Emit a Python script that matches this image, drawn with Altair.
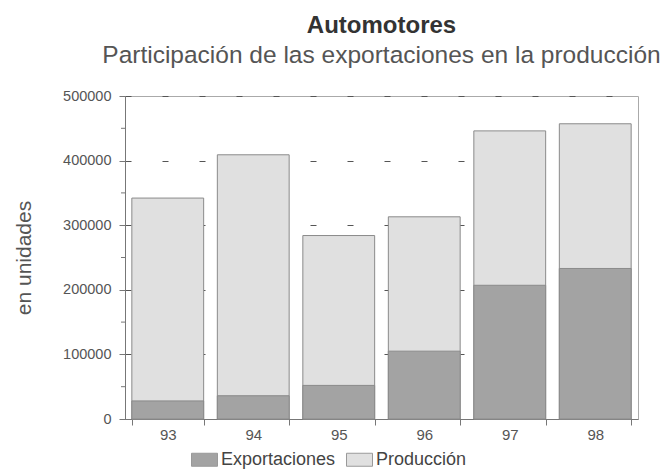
import altair as alt
import pandas as pd

years = ["93", "94", "95", "96", "97", "98"]
produccion = [342000, 409000, 284000, 313000, 446000, 457000]
exportaciones = [28000, 36000, 52000, 105000, 207000, 233000]
minor_ticks = [50000, 150000, 250000, 350000, 450000]

rows = []
for y, p in zip(years, produccion):
    rows.append({"year": y, "serie": "Producción", "value": p})
for y, e in zip(years, exportaciones):
    rows.append({"year": y, "serie": "Exportaciones", "value": e})
df = pd.DataFrame(rows)
df_minor = pd.DataFrame({"v": minor_ticks})

FONT = "Liberation Sans"

y_scale = alt.Scale(domain=[0, 500000], nice=False)

bars = alt.Chart(df).mark_bar(stroke="#8a8a8a", strokeWidth=1).encode(
    x=alt.X("year:N", sort=years, title=None,
            scale=alt.Scale(paddingInner=0.16, paddingOuter=0.08),
            axis=alt.Axis(labelAngle=0, tickBand="extent", labelFontSize=15,
                          labelColor="#555", domainColor="#777", tickColor="#777",
                          tickSize=6, labelPadding=2)),
    y=alt.Y("value:Q", stack=None, scale=y_scale, title="en unidades",
            axis=alt.Axis(values=[0, 100000, 200000, 300000, 400000, 500000],
                          format="d", labelFontSize=14.5, labelColor="#555",
                          titleFontSize=21, titleFontWeight="normal", titleColor="#555",
                          titlePadding=28, domainColor="#777", tickColor="#777",
                          tickSize=6, labelPadding=8, grid=True, gridDash=[6, 31],
                          gridColor="#555", gridWidth=1.2)),
    color=alt.Color("serie:N",
                    scale=alt.Scale(domain=["Exportaciones", "Producción"],
                                    range=["#a3a3a3", "#e0e0e0"]),
                    legend=alt.Legend(title=None, orient="none", direction="horizontal",
                                      legendX=66, legendY=350,
                                      symbolType="M-1,-0.5H1V0.5H-1Z",
                                      symbolSize=676, symbolStrokeColor="#999",
                                      symbolStrokeWidth=1, labelFontSize=18,
                                      labelColor="#444", columnPadding=8,
                                      labelOffset=3, labelFont=FONT)),
    order=alt.Order("order_idx:Q"),
).transform_calculate(order_idx="datum.serie == 'Producción' ? 0 : 1")

minor = alt.Chart(df_minor).mark_rule(color="#777").encode(
    y=alt.Y("v:Q", scale=y_scale),
    x=alt.value(-4),
    x2=alt.value(0),
)

chart = alt.layer(bars, minor).properties(
    width=513, height=323,
    padding={"left": 5, "top": 5, "right": 0, "bottom": 0},
    title=alt.TitleParams(
        text="Automotores",
        subtitle="Participación de las exportaciones en la producción",
        fontSize=24, fontWeight="bold", color="#333", font=FONT,
        subtitleFontSize=24.5, subtitleColor="#555", subtitleFont=FONT,
        subtitlePadding=6, offset=21, anchor="middle", frame="group",
    ),
).configure(font=FONT, background="white").configure_view(stroke="#aaa", strokeWidth=1)

chart.save("out.html", embed_options={"renderer": "svg", "actions": False})
